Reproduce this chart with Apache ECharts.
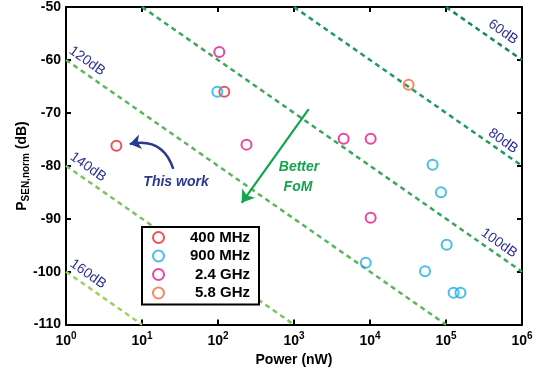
<!DOCTYPE html>
<html><head><meta charset="utf-8">
<script src="https://cdn.jsdelivr.net/npm/echarts@6/dist/echarts.min.js"></script>
<style>html,body{margin:0;padding:0;background:#fff}#c{width:544px;height:372px}</style>
</head><body><div id="c"></div>
<script>
// ---- data ----
const xTickExponents = [0, 1, 2, 3, 4, 5, 6];
const yTicks = [-110, -100, -90, -80, -70, -60, -50];
const seriesNames = ['400 MHz', '900 MHz', '2.4 GHz', '5.8 GHz'];
const seriesColors = ['#e8262c', '#1aaee8', '#e6178c', '#f26b32'];
const power400 = [4.6, 121];
const psen400 = [-76.2, -66];
const power900 = [98, 8800, 53000, 66600, 85900, 102000, 126000, 155000];
const psen900 = [-66, -98.3, -99.9, -79.8, -85, -94.9, -104, -104];
const power24 = [104, 237, 4500, 10200, 10200];
const psen24 = [-58.5, -76, -74.9, -74.9, -89.8];
const power58 = [32200];
const psen58 = [-64.7];
// FoM reference lines (end points where they meet the frame)
const fomValues = [60, 80, 100, 120, 140, 160];
const fomStartPower = [1e5, 1e3, 10, 1, 1, 1];
const fomStartPsen = [-50, -50, -50, -60, -80, -100];
const fomEndPower = [1e6, 1e6, 1e6, 1e5, 1e3, 10];
const fomEndPsen = [-60, -80, -100, -110, -110, -110];
const fomColors = ['#10876a', '#1f9a60', '#3aa75c', '#5bb65c', '#7cc55a', '#9bd35c'];
// annotation arrows (data coordinates)
const thisWorkArrow = [[25.8, -80.6], [6.9, -75.9]];
const betterArrow = [[1560, -69.3], [205, -87.0]];

const FONT = '"Liberation Sans", Arial, sans-serif';
const chart = echarts.init(document.getElementById('c'), null, {renderer: 'canvas'});

const powers = [power400, power900, power24, power58];
const psens = [psen400, psen900, psen24, psen58];

const series = [];
fomValues.forEach((f, i) => {
  series.push({
    type: 'line', name: f + 'dB', showSymbol: false, symbol: 'none', silent: true,
    data: [[fomStartPower[i], fomStartPsen[i]], [fomEndPower[i], fomEndPsen[i]]],
    lineStyle: {color: fomColors[i], width: 2.5, type: [5, 4]}, z: 2
  });
});
seriesNames.forEach((n, i) => {
  series.push({
    type: 'scatter', name: n, symbol: 'circle', symbolSize: 10,
    data: powers[i].map((p, j) => [p, psens[i][j]]),
    itemStyle: {color: 'rgba(255,255,255,0)', borderColor: seriesColors[i], borderWidth: 2},
    z: 4
  });
});
series.push({
  type: 'lines', coordinateSystem: 'cartesian2d', silent: true, z: 5,
  data: [{coords: thisWorkArrow}],
  lineStyle: {color: '#2b3990', width: 2.5, curveness: -0.45, opacity: 1},
  symbol: ['none', 'arrow'], symbolSize: 11
});
series.push({
  type: 'lines', coordinateSystem: 'cartesian2d', silent: true, z: 5,
  data: [{coords: betterArrow}],
  lineStyle: {color: '#12a54e', width: 2.2, curveness: 0, opacity: 1},
  symbol: ['none', 'arrow'], symbolSize: 12
});

const axisLineStyle = {show: true, lineStyle: {color: '#000', width: 2}};
const fomLabelPos = [[503, 32], [503, 141], [499, 243], [87, 61], [88, 167], [88, 274]];

const graphics = fomValues.map((f, i) => ({
  type: 'text', x: fomLabelPos[i][0], y: fomLabelPos[i][1], rotation: -0.615, z: 10,
  style: {text: f + 'dB', font: '14px ' + FONT, fill: '#2e3192', align: 'center', verticalAlign: 'middle'}
}));
graphics.push({
  type: 'text', x: 176, y: 182, z: 10,
  style: {text: 'This work', font: 'italic bold 14px ' + FONT, fill: '#2b3990', align: 'center', verticalAlign: 'middle'}
});
graphics.push({
  type: 'text', x: 299, y: 167, z: 10,
  style: {text: 'Better', font: 'italic bold 14px ' + FONT, fill: '#12a54e', align: 'center', verticalAlign: 'middle'}
});
graphics.push({
  type: 'text', x: 298, y: 187, z: 10,
  style: {text: 'FoM', font: 'italic bold 14px ' + FONT, fill: '#12a54e', align: 'center', verticalAlign: 'middle'}
});
graphics.push({
  type: 'text', x: 22, y: 166, rotation: Math.PI / 2, z: 10,
  style: {
    text: '{p|P}{s|SEN,norm}{p| (dB)}', align: 'center', verticalAlign: 'middle',
    rich: {
      p: {fontSize: 14, fontWeight: 'bold', fontFamily: FONT, fill: '#000', lineHeight: 18},
      s: {fontSize: 10, fontWeight: 'bold', fontFamily: FONT, fill: '#000', padding: [8, 0, 0, 0]}
    }
  }
});

chart.setOption({
  animation: false,
  backgroundColor: '#fff',
  grid: {left: 66, right: 22, top: 6, bottom: 44},
  xAxis: [{
    type: 'log', logBase: 10, min: 1, max: 1e6, position: 'bottom',
    axisLine: axisLineStyle,
    axisTick: {show: true, inside: true, length: 5, lineStyle: {color: '#000', width: 2}},
    minorTick: {show: false}, splitLine: {show: false},
    axisLabel: {
      margin: 7, color: '#000',
      formatter: v => {
        const e = Math.round(Math.log10(v));
        return xTickExponents.indexOf(e) >= 0 ? '{b|10}{s|' + e + '}' : '';
      },
      rich: {
        b: {fontSize: 14, fontWeight: 'bold', fontFamily: FONT, color: '#000'},
        s: {fontSize: 10, fontWeight: 'bold', fontFamily: FONT, color: '#000', padding: [0, 0, 9, 0]}
      }
    },
    name: 'Power (nW)', nameLocation: 'middle', nameGap: 27,
    nameTextStyle: {fontSize: 14, fontWeight: 'bold', fontFamily: FONT, color: '#000'}
  }, {
    type: 'log', logBase: 10, min: 1, max: 1e6, position: 'top',
    axisLine: axisLineStyle,
    axisTick: {show: true, inside: true, length: 5, lineStyle: {color: '#000', width: 2}},
    axisLabel: {show: false}, splitLine: {show: false}
  }],
  yAxis: [{
    type: 'value', min: yTicks[0], max: yTicks[yTicks.length - 1], interval: 10, position: 'left',
    axisLine: axisLineStyle,
    axisTick: {show: true, inside: true, length: 5, lineStyle: {color: '#000', width: 2}},
    splitLine: {show: false},
    axisLabel: {margin: 5, color: '#000', fontSize: 14, fontWeight: 'bold', fontFamily: FONT}
  }, {
    type: 'value', min: yTicks[0], max: yTicks[yTicks.length - 1], interval: 10, position: 'right',
    axisLine: axisLineStyle,
    axisTick: {show: true, inside: true, length: 5, lineStyle: {color: '#000', width: 2}},
    splitLine: {show: false}, axisLabel: {show: false}
  }],
  legend: {
    data: seriesNames, orient: 'vertical', left: 142, top: 227,
    backgroundColor: '#fff', borderColor: '#000', borderWidth: 2,
    padding: [3, 9, 4, 10], itemWidth: 11, itemHeight: 11, itemGap: 3.5,
    selectedMode: false,
    formatter: n => '{t|' + n + '}',
    textStyle: {
      rich: {t: {width: 81, align: 'right', fontSize: 15, fontWeight: 'bold', fontFamily: FONT, color: '#000', lineHeight: 18}}
    }
  },
  graphic: graphics,
  series: series
});
</script></body></html>
